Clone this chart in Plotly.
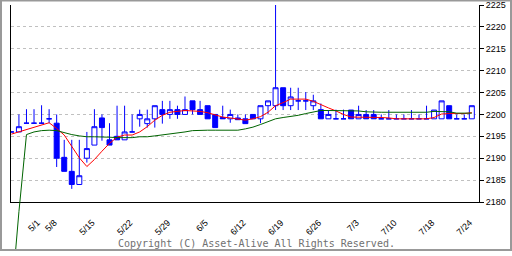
import plotly.graph_objects as go

# ---------------- data ----------------
idx = list(range(62))
open_ = [2196, 2196, 2198, 2198, 2198, 2199, 2198, 2190.2, 2187, 2184,
         2190, 2193, 2199.2, 2194.2, 2195, 2194.2, 2196, 2199, 2197.9, 2199,
         2201.1, 2200, 2201.1, 2200, 2203.1, 2201.1, 2202, 2200, 2199.3, 2199,
         2199.2, 2199, 2200, 2199, 2202, 2202, 2206.1, 2202, 2203.1, 2203.1,
         2202, 2201.1, 2199, 2199, 2199, 2201, 2199, 2200, 2200, 2199,
         2199, 2199, 2199, 2199, 2199, 2199, 2199, 2199, 2202, 2199,
         2199, 2199]
high = [2196, 2200, 2201.2, 2201.2, 2202.1, 2201.2, 2200, 2194.2, 2194.2, 2194.2,
        2196, 2201.2, 2200, 2198, 2202, 2202, 2200, 2201.1, 2201.1, 2202,
        2203.1, 2203.1, 2202, 2204.1, 2203.1, 2203.1, 2202, 2200, 2202, 2201.1,
        2200, 2200, 2200, 2202, 2203.1, 2225, 2206.1, 2206.1, 2206.1, 2205.1,
        2204.5, 2202.5, 2201, 2201.1, 2201.1, 2201, 2202, 2201, 2201, 2200,
        2201, 2200, 2200, 2201, 2200, 2202, 2201, 2203.1, 2202, 2200,
        2200, 2202]
low = [2196, 2196, 2198, 2198, 2198, 2198, 2188, 2187, 2183, 2184,
       2189, 2193, 2194, 2193, 2194.2, 2194.2, 2196, 2197.2, 2197, 2197,
       2197.9, 2199, 2199, 2200, 2200, 2200, 2199, 2197, 2199, 2198.1,
       2198.8, 2197.9, 2199, 2198, 2200, 2201, 2201, 2201, 2201, 2201,
       2201, 2199, 2199, 2199, 2199, 2199, 2199, 2199, 2199, 2199,
       2199, 2199, 2199, 2199, 2199, 2199, 2199, 2199, 2199, 2199,
       2199, 2199]
close = [2196, 2197.2, 2198, 2198, 2198, 2199, 2190, 2187, 2184, 2186,
         2192.2, 2197.2, 2197, 2193, 2194.2, 2196, 2196, 2200, 2199, 2202,
         2200, 2201.1, 2200, 2201.1, 2201.1, 2200, 2199, 2197, 2199, 2200,
         2198.8, 2197.9, 2199, 2202, 2203.1, 2206.1, 2202, 2204, 2203.1, 2203.1,
         2203.1, 2199, 2200, 2199, 2199, 2199, 2200, 2199, 2199, 2199,
         2199, 2199, 2199, 2199, 2199, 2199, 2201, 2203.1, 2199, 2199,
         2199, 2202]
ma_short = [2195.5, 2196, 2196.6, 2197, 2197.5, 2198.1, 2196.8, 2195.3, 2192.7, 2190.1,
            2188.1, 2189.7, 2191.6, 2193.4, 2194.8, 2195.3, 2195.3, 2196, 2197.2, 2198.7,
            2199.8, 2200.5, 2200.7, 2200.9, 2200.8, 2200.7, 2200.4, 2199.9, 2199.4, 2199.2,
            2198.9, 2198.7, 2199, 2199.5, 2200.5, 2202, 2202.7, 2203.5, 2203.5, 2203.5,
            2203, 2202.2, 2201.5, 2200.8, 2200, 2199.4, 2199.4, 2199.4, 2199.4, 2199.3,
            2199.2, 2199, 2199, 2199, 2199, 2199, 2199.3, 2200.1, 2200.2, 2200.2,
            2200.2, 2200.4]
ma_long = [2157.6, 2177.8, 2195.4, 2196, 2196.3, 2196.4, 2196.3, 2195.8, 2195.4, 2195.1,
           2194.9, 2194.9, 2194.9, 2194.8, 2194.7, 2194.7, 2194.7, 2194.9, 2194.9, 2195.1,
           2195.3, 2195.5, 2195.8, 2196, 2196.3, 2196.4, 2196.4, 2196.4, 2196.4, 2196.4,
           2196.4, 2196.7, 2197.1, 2197.7, 2198.4, 2199, 2199.3, 2199.5, 2199.8, 2200.2,
           2200.6, 2200.9, 2200.9, 2200.9, 2200.9, 2200.9, 2200.8, 2200.6, 2200.5, 2200.5,
           2200.5, 2200.5, 2200.5, 2200.5, 2200.5, 2200.5, 2200.7, 2200.7, 2200.6, 2200.3,
           2200.3, 2200.3]
tick_labels = ['5/1', '5/8', '5/15', '5/22', '5/29', '6/5', '6/12', '6/19',
               '6/26', '7/3', '7/10', '7/18', '7/24']
tick_label_idx = [2.75, 5, 10, 15, 20, 25, 30, 35, 40, 45, 50, 55, 60]
tick_mark_idx = [0, 5, 10, 15, 20, 25, 30, 35, 40, 45, 50, 55, 60]
y_ticks = [2180, 2185, 2190, 2195, 2200, 2205, 2210, 2215, 2220, 2225]
copyright_text = 'Copyright (C) Asset-Alive All Rights Reserved.'

# ---------------- layout geometry ----------------
W, H = 512, 256
ML, MR, MT, MB = 11, 33, 5, 0
AXIS_PX = 206            # pixel row of the x axis line
LABEL_SHIFT = 0.7        # rotated labels sit centred under their tick
plot_w = W - ML - MR
plot_h = H - MT - MB
y_dom0 = (H - MB - AXIS_PX) / plot_h
y_range = [2180, 2225]
ppu = plot_h * (1 - y_dom0) / (y_range[1] - y_range[0])
y3_range = [y_range[0] - y_dom0 * plot_h / ppu, y_range[1]]
x_range = [-0.05, 61.95]

BLUE = '#0000ff'
fig = go.Figure()
fig.add_trace(go.Candlestick(
    x=idx, open=open_, high=high, low=low, close=close,
    increasing=dict(line=dict(color=BLUE, width=1), fillcolor='#ffffff'),
    decreasing=dict(line=dict(color=BLUE, width=1), fillcolor=BLUE),
    whiskerwidth=0, hoverinfo='skip', showlegend=False,
    xaxis='x', yaxis='y'))
fig.add_trace(go.Scatter(x=idx, y=ma_short, mode='lines',
                         line=dict(color='#ff0000', width=1),
                         showlegend=False, hoverinfo='skip',
                         xaxis='x', yaxis='y'))
fig.add_trace(go.Scatter(x=idx, y=ma_long, mode='lines',
                         line=dict(color='#006400', width=1),
                         showlegend=False, hoverinfo='skip',
                         xaxis='x', yaxis='y3'))

tickfont = dict(family='Liberation Sans', size=9, color='#000000')
fig.update_layout(
    width=W, height=H,
    margin=dict(l=ML, r=MR, t=MT, b=MB, pad=0),
    paper_bgcolor='#ffffff', plot_bgcolor='rgba(0,0,0,0)',
    boxgap=0.34, boxgroupgap=0,
    showlegend=False,
    xaxis=dict(domain=[0, 1], range=x_range, anchor='y',
               tickmode='array', tickvals=[v + LABEL_SHIFT for v in tick_label_idx],
               ticktext=tick_labels, tickangle=-45, ticks='',
               ticklabelstandoff=11,
               tickfont=tickfont, showgrid=False, zeroline=False,
               showline=True, linecolor='#000000', linewidth=1,
               rangeslider=dict(visible=False), fixedrange=True),
    xaxis2=dict(overlaying='x', anchor='y', range=x_range,
                tickmode='array', tickvals=tick_mark_idx, ticks='outside',
                ticklen=4, tickcolor='#000000', tickwidth=1,
                showticklabels=False, showgrid=False, zeroline=False,
                showline=False),
    xaxis3=dict(overlaying='x', anchor='y', range=x_range,
                tickmode='array', tickvals=tick_mark_idx, ticks='inside',
                ticklen=3, tickcolor='#000000', tickwidth=1,
                showticklabels=False, showgrid=False, zeroline=False,
                showline=False),
    yaxis=dict(domain=[y_dom0, 1], range=y_range, anchor='x', side='right',
               tickmode='array', tickvals=y_ticks, ticks='outside', ticklen=4,
               tickcolor='#000000', tickfont=tickfont,
               showline=True, mirror=True, linecolor='#000000', linewidth=1,
               showgrid=True, gridcolor='#c0c0c0', griddash='3px,3px',
               gridwidth=1, zeroline=False, fixedrange=True),
    yaxis2=dict(overlaying='y', anchor='x', side='right', range=y_range,
                tickmode='array', tickvals=y_ticks, ticks='inside', ticklen=3,
                tickcolor='#000000', showticklabels=False, showgrid=False,
                zeroline=False, showline=False),
    yaxis3=dict(domain=[0, 1], range=y3_range, anchor='x', visible=False,
                fixedrange=True),
)

# copyright line under the chart
fig.add_annotation(text=copyright_text, xref='paper', yref='paper',
                   x=(256.7 - ML) / plot_w, y=(H - 248) / plot_h,
                   xanchor='center', yanchor='middle', showarrow=False,
                   font=dict(family='DejaVu Sans Mono', size=10, color='#707070'))

# grey frame around the whole picture
fig.add_shape(type='rect', xref='paper', yref='paper',
              x0=(-ML + 1) / plot_w, x1=1 + (MR - 1) / plot_w,
              y0=(-MB + 1) / plot_h, y1=1 + (MT - 0.5) / plot_h,
              line=dict(color='#999999', width=2), fillcolor='rgba(0,0,0,0)',
              layer='above')

fig.write_html('out.html', config={'displayModeBar': False})
